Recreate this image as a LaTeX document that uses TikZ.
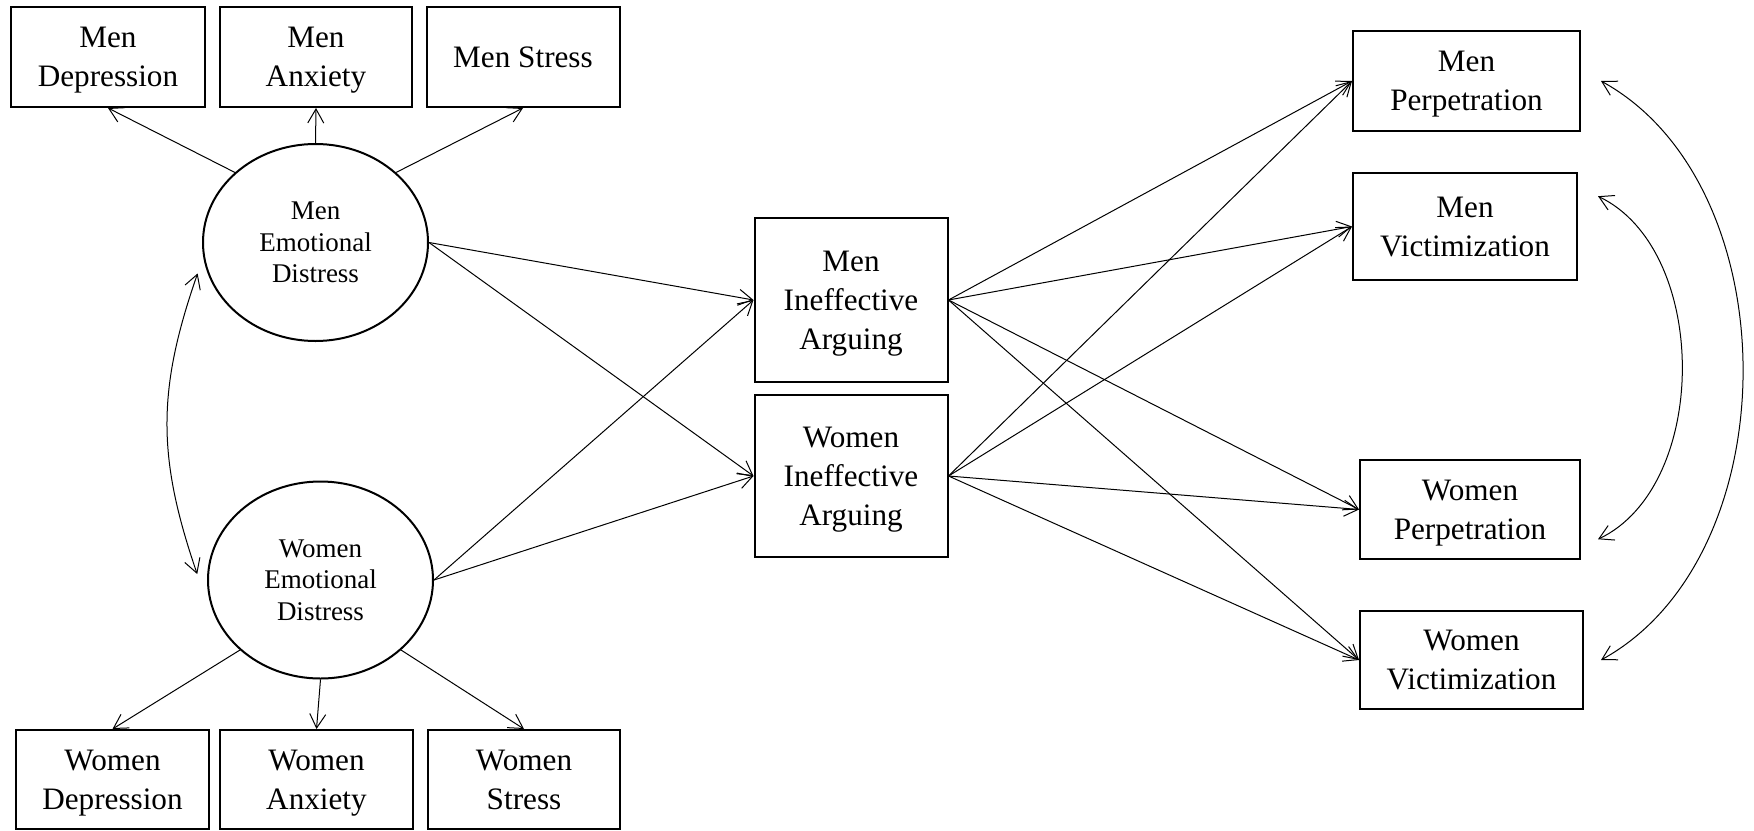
\documentclass[tikz,border=0pt]{standalone}
\usepackage{fontspec}
\setmainfont{Liberation Serif}
\usetikzlibrary{arrows.meta,shapes.geometric}
\begin{document}
\begin{tikzpicture}[x=0.5pt,y=-0.5pt,
  box/.style={draw,line width=1pt,inner sep=0pt,align=center,text depth=0pt,font=\fontsize{15.6}{19.5}\selectfont},
  lat/.style={draw,ellipse,line width=1pt,inner sep=0pt,align=center,font=\fontsize{13.5}{15.75}\selectfont,minimum width=112.5pt,minimum height=98.5pt},
  barb/.tip={Straight Barb[length=7pt,width=8pt]},
  path/.style={line width=0.5pt,-barb},
  cov/.style={line width=0.5pt,barb-barb}]
\useasboundingbox (0,0) rectangle (1754,830);
% indicators men
\node[box,minimum width=97pt,minimum height=50pt] (mdep) at (108,57) {Men\\Depression};
\node[box,minimum width=96pt,minimum height=50pt] (manx) at (316,57) {Men\\Anxiety};
\node[box,minimum width=96.5pt,minimum height=50pt] (mstr) at (523,57) {Men Stress};
% latent
\node[lat] (med) at (315.5,242.5) {Men\\Emotional\\Distress};
\node[lat] (wed) at (320.5,580) {Women\\Emotional\\Distress};
% indicators women
\node[box,minimum width=96.5pt,minimum height=49.5pt] (wdep) at (112.5,779.5) {Women\\Depression};
\node[box,minimum width=96.5pt,minimum height=49.5pt] (wanx) at (316.5,779.5) {Women\\Anxiety};
\node[box,minimum width=96pt,minimum height=49.5pt] (wstr) at (524,779.5) {Women\\Stress};
% mediators
\node[box,minimum width=96.5pt,minimum height=82pt] (mia) at (851,300) {Men\\Ineffective\\Arguing};
\node[box,minimum width=96.5pt,minimum height=81pt] (wia) at (851,476) {Women\\Ineffective\\Arguing};
% outcomes
\node[box,minimum width=113.5pt,minimum height=50pt] (mperp) at (1466.5,81) {Men\\Perpetration};
\node[box,minimum width=112pt,minimum height=53.5pt] (mvic) at (1465,226.5) {Men\\Victimization};
\node[box,minimum width=110pt,minimum height=49.5pt] (wperp) at (1470,509.5) {Women\\Perpetration};
\node[box,minimum width=111.5pt,minimum height=49pt] (wvic) at (1471.5,660) {Women\\Victimization};
% measurement arrows
\draw[path] (med.139) -- (mdep.south);
\draw[path] (med.north) -- (manx.south);
\draw[path] (med.41) -- (mstr.south);
\draw[path] (wed.221) -- (wdep.north);
\draw[path] (wed.south) -- (wanx.north);
\draw[path] (wed.319) -- (wstr.north);
% structural paths
\draw[path] (med.east) -- (mia.west);
\draw[path] (med.east) -- (wia.west);
\draw[path] (wed.east) -- (mia.west);
\draw[path] (wed.east) -- (wia.west);
\foreach \s in {mia,wia}{
  \foreach \t in {mperp,mvic,wperp,wvic}{
    \draw[path] (\s.east) -- (\t.west);
  }
}
% covariances
\draw[cov] ([xshift=-5pt]med.196) .. controls (157,390) and (157,457) .. ([xshift=-5pt]wed.177);
\draw[cov] ([xshift=10pt]mperp.east) .. controls (1790,185) and (1790,556) .. ([xshift=8.5pt]wvic.east);
\draw[cov] ([xshift=10pt]mvic.15) .. controls (1710,250) and (1710,486) .. ([xshift=8.5pt]wperp.-15);
\end{tikzpicture}
\end{document}
